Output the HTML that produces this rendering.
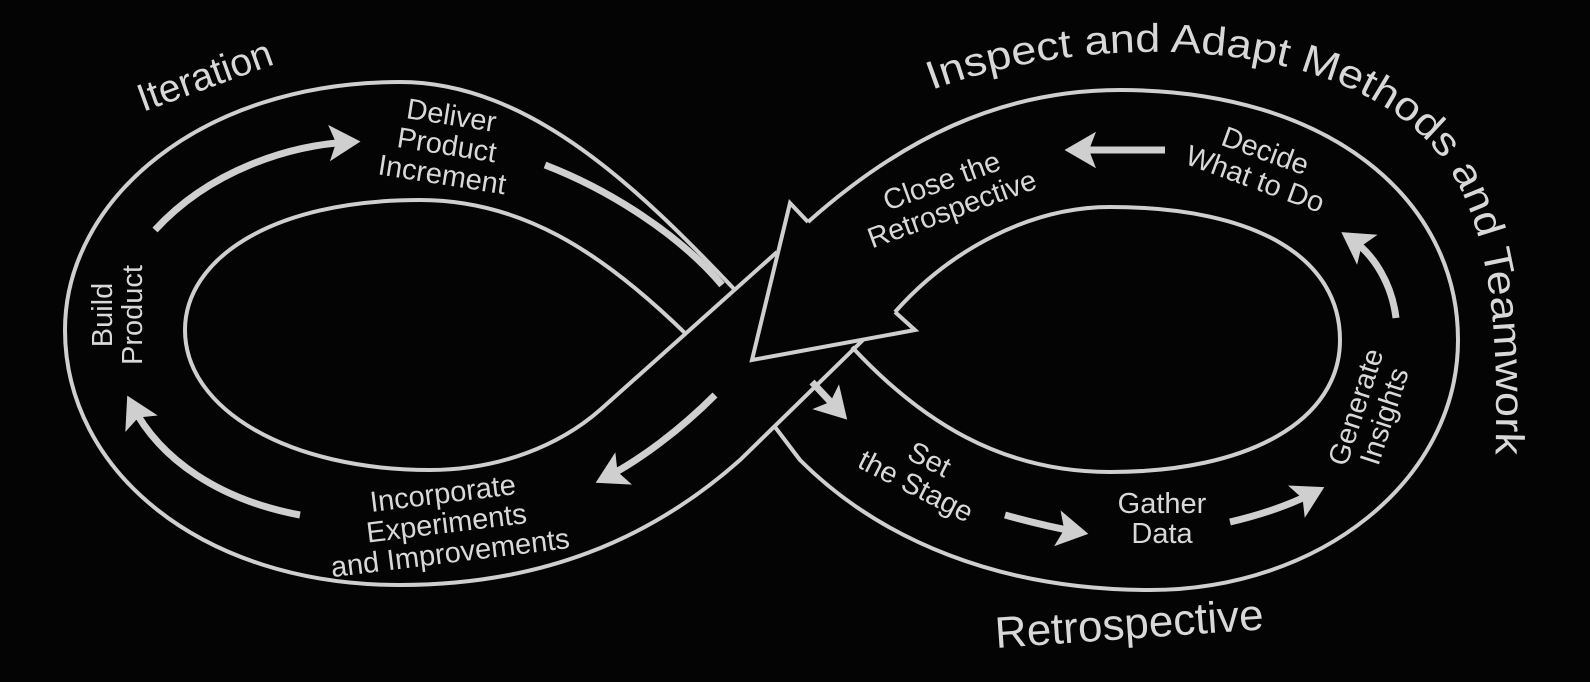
<!DOCTYPE html>
<html><head><meta charset="utf-8"><style>
html,body{margin:0;padding:0;background:#000;}
svg{display:block}
text{font-family:"Liberation Sans",sans-serif;fill:#d8d8d8;}
</style></head><body>
<svg width="1590" height="682" viewBox="0 0 1590 682" xmlns="http://www.w3.org/2000/svg">
<rect width="1590" height="682" fill="#040404"/>
<defs>
<marker id="ah" markerWidth="6" markerHeight="6" refX="3" refY="3" orient="auto" markerUnits="strokeWidth">
<path d="M0,0.4 L4.5,3 L0,5.6 L1,3 Z" fill="#cfcfcf"/>
</marker>
</defs>
<g fill="none" stroke="#cfcfcf" stroke-width="4" stroke-linejoin="miter">
<path d="M735,290 C640,190 530,82 400,82 C200,82 65,200 65,330 C65,470 200,585 400,585 C540,585 650,540 740,460 L863,340"/>
<path d="M687,335 C600,250 520,200 420,200 C270,200 185,260 185,330 C185,410 290,470 430,470 C500,470 560,445 600,410 L777,252"/>
<path d="M808,222 L790,203 L752,360 L915,330 L895,312"/>
<path d="M808,222 C900,140 1000,90 1120,90 C1330,90 1458,200 1458,340 C1458,480 1320,590 1150,590 C1000,590 880,540 800,460 L775,427"/>
<path d="M895,312 C950,250 1030,207 1110,207 C1260,207 1340,260 1340,340 C1340,420 1250,472 1110,472 C1000,472 920,420 852,347"/>
</g>
<g fill="none" stroke="#cfcfcf" stroke-width="7" stroke-linecap="butt">
<path d="M155,230 C210,170 290,145 350,142" marker-end="url(#ah)"/>
<path d="M545,165 C610,190 680,235 722,285"/>
<path d="M715,395 C680,430 640,460 605,478" marker-end="url(#ah)"/>
<path d="M300,515 C220,500 160,460 132,405" marker-end="url(#ah)"/>
<path d="M812,382 L840,412" marker-end="url(#ah)"/>
<path d="M1005,515 C1030,522 1050,527 1078,532" marker-end="url(#ah)"/>
<path d="M1230,522 C1260,515 1290,505 1315,492" marker-end="url(#ah)"/>
<path d="M1396,318 C1392,285 1375,255 1350,238" marker-end="url(#ah)"/>
<path d="M1165,150 L1075,150" marker-end="url(#ah)"/>
</g>
<text font-size="39" transform="translate(143,112) rotate(-20)">Iteration</text>
<g font-size="29" text-anchor="middle">
<text transform="translate(450,125) rotate(9)"><tspan x="0" y="0">Deliver</tspan><tspan x="0" y="30">Product</tspan><tspan x="0" y="60">Increment</tspan></text>
<text transform="translate(112,315) rotate(-90)"><tspan x="0" y="0">Build</tspan><tspan x="0" y="30">Product</tspan></text>
<text transform="translate(444,503) rotate(-7)"><tspan x="0" y="0">Incorporate</tspan><tspan x="0" y="30">Experiments</tspan><tspan x="0" y="60">and Improvements</tspan></text>
<text transform="translate(945,190) rotate(-20)"><tspan x="0" y="0">Close the</tspan><tspan x="0" y="30">Retrospective</tspan></text>
<text transform="translate(1262,160) rotate(20)"><tspan x="0" y="0">Decide</tspan><tspan x="0" y="30">What to Do</tspan></text>
<text transform="translate(1365,410) rotate(-72)"><tspan x="0" y="0">Generate</tspan><tspan x="0" y="30">Insights</tspan></text>
<text transform="translate(925,468) rotate(27)"><tspan x="0" y="0">Set</tspan><tspan x="0" y="30">the Stage</tspan></text>
<text transform="translate(1162,513)"><tspan x="0" y="0">Gather</tspan><tspan x="0" y="30">Data</tspan></text>
</g>
<path id="arc" d="M932,90 C1090,30 1360,30 1450,170 C1490,235 1500,330 1495,470" fill="none"/>
<text font-size="40"><textPath href="#arc" textLength="850" lengthAdjust="spacingAndGlyphs">Inspect and Adapt Methods and Teamwork</textPath></text>
<text font-size="44" transform="translate(996,648) rotate(-4)">Retrospective</text>
</svg>
</body></html>
